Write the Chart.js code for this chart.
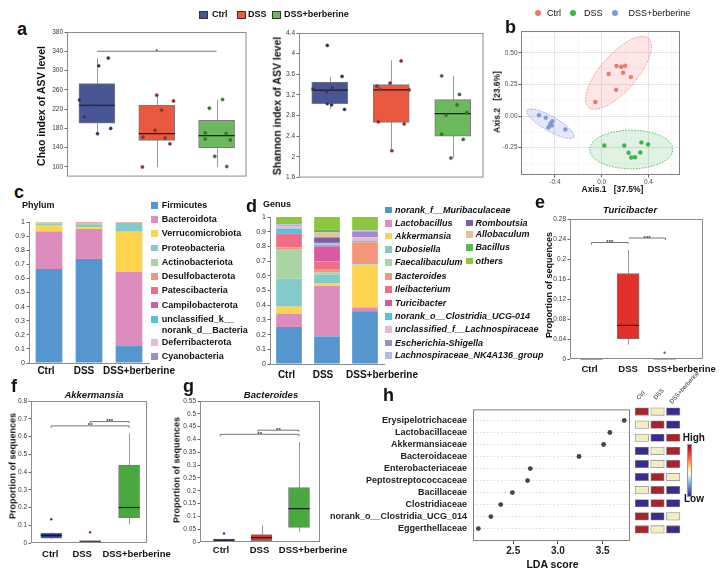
<!DOCTYPE html>
<html>
<head>
<meta charset="utf-8">
<title>Berberine and gut microbiota</title>
<script src="https://cdn.jsdelivr.net/npm/chart.js@4.4.1/dist/chart.umd.min.js"></script>
<style>
  html, body { margin: 0; padding: 0; background: #fff; }
  #page { position: relative; width: 720px; height: 580px; overflow: hidden;
          font-family: "Liberation Sans", Arial, Helvetica, sans-serif; color: #111; }
  #page canvas { position: absolute; }
  .t { position: absolute; white-space: pre; line-height: 1; }
  .sw { position: absolute; box-sizing: border-box; }
</style>
</head>
<body>
<div id="page"></div>
<script>
// ---------- data ----------
const groups = ['Ctrl', 'DSS', 'DSS+berberine'];

// a: Chao index
const chaoLow = [169, 100, 100];
const chaoQ1 = [191, 155, 140];
const chaoMed = [228, 169, 165];
const chaoQ3 = [273, 228, 197];
const chaoHigh = [326, 249, 240];
const chaoCtrl = [326, 310, 239, 228, 204, 180, 169];
const chaoDss = [249, 237, 218, 176, 162, 160, 148, 100];
const chaoBerb = [240, 222, 171, 169, 158, 156, 122, 101];
const chaoCtrlJit = [0.19, 0.03, -0.29, -0.07, -0.21, 0.23, 0.01];
const chaoDssJit = [0, 0.28, 0.08, -0.03, -0.23, 0.14, 0.22, -0.24];
const chaoBerbJit = [0.1, -0.12, -0.19, 0.16, -0.19, 0.23, -0.03, 0.17];
const chaoTicks = [100, 140, 180, 220, 260, 300, 340, 380];

// a: Shannon index
const shanLow = [2.93, 2.12, 1.98];
const shanQ1 = [3.03, 2.67, 2.40];
const shanMed = [3.295, 3.30, 2.84];
const shanQ3 = [3.45, 3.40, 3.11];
const shanHigh = [3.55, 3.87, 3.57];
const shanCtrl = [4.16, 3.56, 3.32, 3.34, 3.26, 3.03, 3.01, 2.92];
const shanDss = [3.86, 3.43, 3.37, 3.31, 3.30, 2.68, 2.64, 2.12];
const shanBerb = [3.57, 3.21, 3.01, 2.81, 2.86, 2.44, 2.34, 1.98];
const shanCtrlJit = [-0.04, 0.2, -0.27, 0.04, -0.05, -0.04, 0.03, 0.24];
const shanDssJit = [0.16, -0.02, -0.23, -0.19, 0.29, -0.21, 0.21, 0.01];
const shanBerbJit = [-0.18, 0.11, 0.07, -0.11, 0.23, -0.18, 0.17, -0.03];
const shanTicks = [1.6, 2, 2.4, 2.8, 3.2, 3.6, 4, 4.4];

// b: PCoA
const pcCtrlX = [0.127, 0.167, 0.20, 0.184, 0.06, 0.25, 0.124, -0.054];
const pcCtrlY = [0.396, 0.39, 0.398, 0.342, 0.332, 0.308, 0.207, 0.111];
const pcDssX = [0.023, 0.193, 0.34, 0.397, 0.23, 0.331, 0.253, 0.285];
const pcDssY = [-0.233, -0.233, -0.209, -0.225, -0.291, -0.289, -0.329, -0.326];
const pcBerbX = [-0.536, -0.478, -0.421, -0.435, -0.441, -0.455, -0.426, -0.311];
const pcBerbY = [0.006, -0.013, -0.042, -0.056, -0.068, -0.09, -0.076, -0.106];
// confidence ellipses: centre + two semi-axis vectors, in axis units
const ctrlEllipse = { cx: 0.144, cy: 0.342, ax: 0.256, ay: 0.273, bx: 0.118, by: -0.094 };
const dssEllipse = { cx: 0.253, cy: -0.265, ax: 0.356, ay: 0, bx: 0, by: 0.153 };
const berbEllipse = { cx: -0.438, cy: -0.061, ax: 0.199, ay: -0.106, bx: -0.032, by: -0.05 };
const pcXTicks = [-0.6, -0.4, -0.2, 0, 0.2, 0.4, 0.6];
const pcYTicks = [-0.375, -0.25, -0.125, 0, 0.125, 0.25, 0.375, 0.5, 0.625];

// c: phylum composition
const phyla = ['Firmicutes', 'Bacteroidota', 'Verrucomicrobiota', 'Proteobacteria', 'Actinobacteriota',
  'Desulfobacterota', 'Patescibacteria', 'Campilobacterota', 'unclassified_k__norank_d__Bacteria',
  'Deferribacterota', 'Cyanobacteria'];
const phylumCtrl = [0.667, 0.265, 0.047, 0.011, 0.007, 0.001, 0.002, 0, 0, 0, 0];
const phylumDss = [0.738, 0.212, 0.012, 0.017, 0.013, 0.004, 0.003, 0.001, 0, 0, 0];
const phylumBerb = [0.12, 0.526, 0.285, 0.062, 0.002, 0.001, 0.003, 0, 0, 0.001, 0];

// d: genus composition
const genera = ['norank_f__Muribaculaceae', 'Lactobacillus', 'Akkermansia', 'Dubosiella', 'Faecalibaculum',
  'Bacteroides', 'Ileibacterium', 'Turicibacter', 'norank_o__Clostridia_UCG-014',
  'unclassified_f__Lachnospiraceae', 'Escherichia-Shigella', 'Lachnospiraceae_NK4A136_group',
  'Romboutsia', 'Allobaculum', 'Bacillus', 'others'];
const genusCtrl = [0.252, 0.090, 0.048, 0.190, 0.202, 0.012, 0.090, 0.002, 0.035, 0.016, 0.006, 0.007, 0, 0, 0, 0.050];
const genusDss = [0.188, 0.345, 0.018, 0.057, 0.016, 0.022, 0.052, 0.102, 0.012, 0.004, 0.004, 0.004, 0.037, 0.034, 0.018, 0.087];
const genusBerb = [0.358, 0.027, 0.286, 0.005, 0.002, 0.150, 0.004, 0, 0.007, 0.023, 0.040, 0.007, 0, 0.001, 0, 0.090];
const tenths = [0, 0.1, 0.2, 0.3, 0.4, 0.5, 0.6, 0.7, 0.8, 0.9, 1];

// e: Turicibacter
const turiLow = [0, 0.0286, 0];
const turiQ1 = [0, 0.040, 0];
const turiMed = [0.0004, 0.0672, 0.0006];
const turiQ3 = [0.0008, 0.1706, 0.0012];
const turiHigh = [0, 0.2186, 0];
const turiOutlier = [0.0125];
const turiTicks = [0, 0.04, 0.08, 0.12, 0.16, 0.2, 0.24, 0.28];

// f: Akkermansia
const akkLow = [0.022, 0, 0.104];
const akkQ1 = [0.027, 0.001, 0.143];
const akkMed = [0.043, 0.005, 0.2];
const akkQ3 = [0.056, 0.013, 0.439];
const akkHigh = [0.06, 0.016, 0.618];
const akkOutCtrl = [0.134];
const akkOutDss = [0.06];
const akkTicks = [0, 0.1, 0.2, 0.3, 0.4, 0.5, 0.6, 0.7, 0.8];

// g: Bacteroides
const bacLow = [0, 0.001, 0.039];
const bacQ1 = [0.002, 0.005, 0.057];
const bacMed = [0.007, 0.017, 0.13];
const bacQ3 = [0.011, 0.029, 0.2125];
const bacHigh = [0.013, 0.065, 0.39];
const bacOutCtrl = [0.033];
const bacTicks = [0, 0.05, 0.1, 0.15, 0.2, 0.25, 0.3, 0.35, 0.4, 0.45, 0.5, 0.55];

// h: LEfSe
const ldaTaxa = ['Erysipelotrichaceae', 'Lactobacillaceae', 'Akkermansiaceae', 'Bacteroidaceae',
  'Enterobacteriaceae', 'Peptostreptococcaceae', 'Bacillaceae', 'Clostridiaceae',
  'norank_o__Clostridia_UCG_014', 'Eggerthellaceae'];
const ldaScore = [3.74, 3.58, 3.51, 3.235, 2.69, 2.66, 2.49, 2.36, 2.25, 2.11];
const ldaTicks = [2.5, 3.0, 3.5];
// relative abundance level per group: 1 high, 0 middle, -1 low
const heatCtrl = [1, 0, 0, -1, -1, -1, 0, -1, 1, 1];
const heatDss = [0, 1, -1, 0, 0, 1, 1, 1, -1, 0];
const heatBerb = [-1, -1, 1, 1, 1, 0, -1, -1, 0, -1];

// ---------- colours ----------
const fillA = ['#4a5595', '#e9583f', '#6cb95d'];
const dotA = ['#262f6c', '#a3241d', '#2c7a2a'];
const fillB = ['#2c3a8c', '#e2302b', '#49a93f'];
const pcColors = ['#f3766d', '#3db44a', '#8496db'];
const phylumColors = ['#5596cf', '#dd8dbd', '#fdd350', '#82cbc8', '#a8d5a2', '#f4967a', '#ef6e87',
  '#d9589f', '#4fc3e0', '#ebb6d8', '#a08cc8'];
const genusColors = ['#5596cf', '#dd8dbd', '#fdd350', '#82cbc8', '#a8d5a2', '#f4967a', '#ef6e87',
  '#d9589f', '#4fc3e0', '#ebb6d8', '#a08cc8', '#adbde6', '#7b5ea8', '#e3c49a', '#62b65a', '#8cc63e'];
const heatColor = { '1': '#a8232b', '0': '#f4edc4', '-1': '#3b2b8e' };

// ---------- helpers ----------
Chart.defaults.font.family = '"Liberation Sans", Arial, Helvetica, sans-serif';
Chart.defaults.color = '#333';
const FONT = '"Liberation Sans", Arial, Helvetica, sans-serif';
const page = document.getElementById('page');

// area = chart area on the page [left, top, right, bottom]; m = margins [left, top, right, bottom]
function canvasAt(area, m) {
  const c = document.createElement('canvas');
  const w = area[2] - area[0] + m[0] + m[2];
  const h = area[3] - area[1] + m[1] + m[3];
  c.width = w; c.height = h;
  c.style.width = w + 'px'; c.style.height = h + 'px';
  c.style.left = (area[0] - m[0]) + 'px';
  c.style.top = (area[1] - m[1]) + 'px';
  page.appendChild(c);
  return c;
}

function baseOptions(m) {
  return {
    responsive: false,
    animation: false,
    events: [],
    layout: { padding: { left: 0, top: m[1], right: m[2], bottom: 0 } },
    plugins: { legend: { display: false }, tooltip: { enabled: false } }
  };
}

function xHidden(height, extra) {
  return Object.assign({
    afterFit: s => { s.height = height; },
    ticks: { display: false },
    grid: { display: false },
    border: { display: false }
  }, extra || {});
}

function yLin(width, min, max, ticks, fmt, extra) {
  return Object.assign({
    type: 'linear', min, max,
    afterBuildTicks: s => { s.ticks = ticks.map(v => ({ value: v })); },
    afterFit: s => { s.width = width; },
    ticks: { autoSkip: false, padding: 1.5, color: '#3a3a3a', font: { size: 6.5 }, callback: fmt },
    grid: { drawOnChartArea: false, tickLength: 2.5, tickColor: '#6a6a6a' },
    border: { display: false }
  }, extra || {});
}

const trim = d => v => String(+v.toFixed(d));

// plot frame
function frame(color) {
  return {
    id: 'frame',
    afterDatasetsDraw(chart) {
      if (!color) return;
      const { ctx, chartArea: a } = chart;
      ctx.save();
      ctx.strokeStyle = color;
      ctx.lineWidth = 1;
      ctx.strokeRect(a.left + 0.5, a.top + 0.5, a.width - 1, a.height - 1);
      ctx.restore();
    }
  };
}

// whiskers under the boxes, medians on top of them
function whiskers(low, high, med, width, color) {
  return {
    id: 'whiskers',
    beforeDatasetsDraw(chart) {
      const { ctx, scales: { x, y } } = chart;
      ctx.save();
      ctx.strokeStyle = color || '#9a9a9a';
      ctx.lineWidth = 1;
      low.forEach((lo, i) => {
        if (lo === high[i]) return;
        const px = Math.round(x.getPixelForValue(i)) + 0.5;
        ctx.beginPath();
        ctx.moveTo(px, y.getPixelForValue(lo));
        ctx.lineTo(px, y.getPixelForValue(high[i]));
        ctx.stroke();
      });
      ctx.restore();
    },
    afterDatasetDraw(chart, args) {
      if (args.index !== 0) return;
      const { ctx, scales: { x, y } } = chart;
      ctx.save();
      ctx.strokeStyle = '#1a1a1a';
      ctx.lineWidth = 1.2;
      med.forEach((v, i) => {
        const px = x.getPixelForValue(i), py = y.getPixelForValue(v);
        ctx.beginPath();
        ctx.moveTo(px - width / 2, py);
        ctx.lineTo(px + width / 2, py);
        ctx.stroke();
      });
      ctx.restore();
    }
  };
}

// significance brackets
function brackets(items, color) {
  return {
    id: 'brackets',
    afterDatasetsDraw(chart) {
      const { ctx, scales: { x, y } } = chart;
      ctx.save();
      ctx.strokeStyle = color || '#555';
      ctx.fillStyle = '#333';
      ctx.lineWidth = 0.8;
      ctx.font = 'bold 6px ' + FONT;
      ctx.textAlign = 'center';
      items.forEach(b => {
        const x1 = x.getPixelForValue(b.x1), x2 = x.getPixelForValue(b.x2), py = y.getPixelForValue(b.y);
        ctx.beginPath();
        ctx.moveTo(x1, py + (b.d1 || 0));
        ctx.lineTo(x1, py);
        ctx.lineTo(x2, py);
        ctx.lineTo(x2, py + (b.d2 || 0));
        ctx.stroke();
        ctx.fillText(b.text, (x1 + x2) / 2, py + 1.5);
      });
      ctx.restore();
    }
  };
}

// category labels under the x axis, nudged like in the figure
function catLabels(labels, dx, base, font) {
  return {
    id: 'catLabels',
    afterDraw(chart) {
      const { ctx, chartArea, scales: { x } } = chart;
      ctx.save();
      ctx.font = font;
      ctx.fillStyle = '#111';
      ctx.textAlign = 'center';
      ctx.textBaseline = 'alphabetic';
      labels.forEach((t, i) => ctx.fillText(t, x.getPixelForValue(i) + dx[i], chartArea.bottom + base));
      ctx.restore();
    }
  };
}

function ellipses(list) {
  return {
    id: 'ellipses',
    beforeDatasetsDraw(chart) {
      const { ctx, scales: { x, y } } = chart;
      list.forEach(e => {
        ctx.save();
        ctx.beginPath();
        for (let k = 0; k <= 90; k++) {
          const t = k / 90 * Math.PI * 2;
          const px = x.getPixelForValue(e.cx + Math.cos(t) * e.ax + Math.sin(t) * e.bx);
          const py = y.getPixelForValue(e.cy + Math.cos(t) * e.ay + Math.sin(t) * e.by);
          if (k) ctx.lineTo(px, py); else ctx.moveTo(px, py);
        }
        ctx.closePath();
        ctx.fillStyle = e.fill;
        ctx.fill();
        ctx.setLineDash([1.6, 1.4]);
        ctx.strokeStyle = e.stroke;
        ctx.lineWidth = 1;
        ctx.stroke();
        ctx.restore();
      });
    }
  };
}

function boxPanel(area, m, c) {
  const datasets = [{
    type: 'bar',
    data: c.q1.map((q, i) => ({ x: i, y: [q, c.q3[i]] })),
    backgroundColor: c.fill,
    borderColor: c.edge || '#7a7a7a',
    borderWidth: 1,
    borderSkipped: false,
    barThickness: c.width,
    order: 2
  }];
  c.dots.forEach(d => datasets.push({
    type: 'scatter',
    data: d.vals.map((v, k) => ({ x: d.group + (d.jit ? d.jit[k] : 0), y: v })),
    backgroundColor: d.color,
    borderColor: d.edge || d.color,
    borderWidth: d.bw || 0,
    pointRadius: d.r || 1.6,
    order: 1
  }));
  const o = baseOptions(m);
  o.scales = {
    x: xHidden(m[3], { type: 'linear', min: c.xMin, max: c.xMax, offset: false }),
    y: yLin(m[0], c.yMin, c.yMax, c.yTicks, c.fmt)
  };
  const plugins = [whiskers(c.low, c.high, c.med, c.width), frame(c.frame)];
  if (c.sig) plugins.push(brackets(c.sig));
  if (c.labelDx) plugins.push(catLabels(groups, c.labelDx, c.labelBase - area[3], 'bold 9.5px ' + FONT));
  new Chart(canvasAt(area, m), { type: 'bar', data: { datasets }, options: o, plugins });
}

function stackPanel(area, m, names, colors, ctrl, dss, berb, pct, labelDx, labelBase) {
  const o = baseOptions(m);
  o.scales = {
    x: xHidden(m[3], { stacked: true, border: { display: true, color: '#8a8a8a' } }),
    y: yLin(m[0], 0, 1, tenths, trim(1), {
      stacked: true,
      ticks: { autoSkip: false, padding: 1.5, color: '#333', font: { size: 7 }, callback: trim(1) },
      border: { display: true, color: '#8a8a8a' }
    })
  };
  new Chart(canvasAt(area, m), {
    type: 'bar',
    data: {
      labels: groups,
      datasets: names.map((n, k) => ({
        label: n, data: [ctrl[k], dss[k], berb[k]], backgroundColor: colors[k],
        borderWidth: 0, barPercentage: pct, categoryPercentage: 1
      }))
    },
    options: o,
    plugins: [catLabels(groups, labelDx, labelBase - area[3], 'bold 10px ' + FONT)]
  });
}

// page text
function text(str, x, base, size, o = {}) {
  const d = document.createElement('div');
  d.className = 't';
  d.textContent = str;
  d.style.fontSize = size + 'px';
  d.style.fontWeight = o.weight || 'bold';
  if (o.italic) d.style.fontStyle = 'italic';
  d.style.color = o.color || '#111';
  d.style.top = (base - 0.85 * size) + 'px';
  d.style.left = x + 'px';
  if (o.center) d.style.transform = 'translateX(-50%)';
  page.appendChild(d);
  return d;
}
function vtext(str, cx, cy, size) {
  const d = document.createElement('div');
  d.className = 't';
  d.textContent = str;
  d.style.fontSize = size + 'px';
  d.style.fontWeight = 'bold';
  d.style.left = cx + 'px';
  d.style.top = cy + 'px';
  d.style.transform = 'translate(-50%,-50%) rotate(-90deg)';
  page.appendChild(d);
}
function swatch(x, y, w, h, color, edge, round) {
  const d = document.createElement('div');
  d.className = 'sw';
  Object.assign(d.style, { left: x + 'px', top: y + 'px', width: w + 'px', height: h + 'px', background: color });
  if (edge) d.style.border = '1px solid ' + edge;
  if (round) d.style.borderRadius = '50%';
  page.appendChild(d);
}

// ---------- a: Chao ----------
boxPanel([67, 32, 248, 179], [22, 6, 3, 3], {
  q1: chaoQ1, q3: chaoQ3, low: chaoLow, high: chaoHigh, med: chaoMed,
  fill: fillA, width: 36, xMin: -0.5, xMax: 2.5,
  yMin: 80, yMax: 380, yTicks: chaoTicks, fmt: trim(0), frame: '#8c8c8c',
  dots: [
    { group: 0, vals: chaoCtrl, jit: chaoCtrlJit, color: dotA[0], edge: '#555', bw: 0.5 },
    { group: 1, vals: chaoDss, jit: chaoDssJit, color: dotA[1], edge: '#555', bw: 0.5 },
    { group: 2, vals: chaoBerb, jit: chaoBerbJit, color: dotA[2], edge: '#555', bw: 0.5 }
  ],
  sig: [{ x1: 0, x2: 2, y: 340, text: '*' }]
});

// ---------- a: Shannon ----------
boxPanel([299, 33, 485, 180], [22, 6, 3, 3], {
  q1: shanQ1, q3: shanQ3, low: shanLow, high: shanHigh, med: shanMed,
  fill: fillA, width: 36, xMin: -0.5, xMax: 2.5,
  yMin: 1.6, yMax: 4.4, yTicks: shanTicks, fmt: trim(1), frame: '#8c8c8c',
  dots: [
    { group: 0, vals: shanCtrl, jit: shanCtrlJit, color: dotA[0], edge: '#555', bw: 0.5 },
    { group: 1, vals: shanDss, jit: shanDssJit, color: dotA[1], edge: '#555', bw: 0.5 },
    { group: 2, vals: shanBerb, jit: shanBerbJit, color: dotA[2], edge: '#555', bw: 0.5 }
  ]
});

// ---------- b: PCoA ----------
(function () {
  const m = [22, 6, 4, 12];
  const area = [521, 31, 680, 175];
  const majorX = v => Math.abs(Math.round(v * 10)) % 4 === 0;
  const majorY = v => Math.round(v * 8) % 2 === 0;
  const o = baseOptions(m);
  o.scales = {
    x: {
      type: 'linear', min: -0.69, max: 0.67,
      afterBuildTicks: s => { s.ticks = pcXTicks.map(v => ({ value: v })); },
      afterFit: s => { s.height = m[3]; },
      ticks: { autoSkip: false, maxRotation: 0, padding: 1, color: '#4d4d4d', font: { size: 6.5 },
        callback: v => majorX(v) ? v.toFixed(1) : '' },
      grid: { color: c => majorX(c.tick.value) ? '#e2e2e2' : '#efefef', lineWidth: c => majorX(c.tick.value) ? 0.9 : 0.5,
        tickLength: 2.5, tickColor: c => majorX(c.tick.value) ? '#555' : 'rgba(0,0,0,0)' },
      border: { display: false }
    },
    y: {
      type: 'linear', min: -0.467, max: 0.673,
      afterBuildTicks: s => { s.ticks = pcYTicks.map(v => ({ value: v })); },
      afterFit: s => { s.width = m[0]; },
      ticks: { autoSkip: false, padding: 1, color: '#4d4d4d', font: { size: 6.5 },
        callback: v => majorY(v) ? v.toFixed(2) : '' },
      grid: { color: c => majorY(c.tick.value) ? '#e2e2e2' : '#efefef', lineWidth: c => majorY(c.tick.value) ? 0.9 : 0.5,
        tickLength: 2.5, tickColor: c => majorY(c.tick.value) ? '#555' : 'rgba(0,0,0,0)' },
      border: { display: false }
    }
  };
  const pts = (xs, ys) => xs.map((v, i) => ({ x: v, y: ys[i] }));
  new Chart(canvasAt(area, m), {
    type: 'scatter',
    data: {
      datasets: [
        { label: 'Ctrl', data: pts(pcCtrlX, pcCtrlY), backgroundColor: pcColors[0], pointRadius: 2.2, borderWidth: 0 },
        { label: 'DSS', data: pts(pcDssX, pcDssY), backgroundColor: pcColors[1], pointRadius: 2.2, borderWidth: 0 },
        { label: 'DSS+berberine', data: pts(pcBerbX, pcBerbY), backgroundColor: pcColors[2], pointRadius: 2.2, borderWidth: 0 }
      ]
    },
    options: o,
    plugins: [
      ellipses([
        Object.assign({ fill: 'rgba(243,118,109,0.18)', stroke: 'rgba(243,118,109,0.8)' }, ctrlEllipse),
        Object.assign({ fill: 'rgba(61,180,74,0.16)', stroke: 'rgba(61,180,74,0.8)' }, dssEllipse),
        Object.assign({ fill: 'rgba(132,150,219,0.22)', stroke: 'rgba(132,150,219,0.85)' }, berbEllipse)
      ]),
      frame('#7f7f7f')
    ]
  });
})();

// ---------- c / d: stacked composition ----------
stackPanel([29, 222, 149, 363], [22, 6, 26, 17], phyla, phylumColors, phylumCtrl, phylumDss, phylumBerb,
  0.667, [-3, -5, 10], 374);
stackPanel([270, 217, 384, 364], [22, 6, 34, 17], genera, genusColors, genusCtrl, genusDss, genusBerb,
  0.676, [-2.5, -4, 17], 378);

// ---------- e: Turicibacter ----------
boxPanel([570, 219, 703, 359], [22, 6, 16, 16], {
  q1: turiQ1, q3: turiQ3, low: turiLow, high: turiHigh, med: turiMed,
  fill: fillB, edge: ['#26306e', '#777', '#2a6e25'], width: 22, xMin: -0.59, xMax: 3.05,
  yMin: 0, yMax: 0.28, yTicks: turiTicks, fmt: trim(2), frame: '#8c8c8c',
  dots: [{ group: 2, vals: turiOutlier, color: '#3c8f34', r: 1.2 }],
  sig: [{ x1: 0, x2: 1, y: 0.233, text: '***', d1: 2, d2: 1.5 },
        { x1: 1.02, x2: 2.02, y: 0.242, text: '***', d2: 2 }],
  labelDx: [-2, 0, 17], labelBase: 372
});

// ---------- f: Akkermansia ----------
boxPanel([31, 401, 147, 543], [22, 6, 24, 16], {
  q1: akkQ1, q3: akkQ3, low: akkLow, high: akkHigh, med: akkMed,
  fill: fillB, width: 21, xMin: -0.52, xMax: 2.46,
  yMin: 0, yMax: 0.8, yTicks: akkTicks, fmt: trim(1), frame: '#8c8c8c',
  dots: [{ group: 0, vals: akkOutCtrl, color: '#2c3a8c', r: 1.2 },
         { group: 1, vals: akkOutDss, color: '#c0282a', r: 1.3 }],
  sig: [{ x1: 0, x2: 2, y: 0.66, text: '**', d1: 2, d2: 2 },
        { x1: 1, x2: 2, y: 0.684, text: '***', d1: 1.5, d2: 1.5 }],
  labelDx: [-1, -8, 7.5], labelBase: 557
});

// ---------- g: Bacteroides ----------
boxPanel([200, 401, 320, 542], [24, 6, 28, 16], {
  q1: bacQ1, q3: bacQ3, low: bacLow, high: bacHigh, med: bacMed,
  fill: fillB, width: 21, xMin: -0.64, xMax: 2.56,
  yMin: 0, yMax: 0.55, yTicks: bacTicks, fmt: trim(2), frame: '#8c8c8c',
  dots: [{ group: 0, vals: bacOutCtrl, color: '#2c3a8c', r: 1.2 }],
  sig: [{ x1: -0.1, x2: 2, y: 0.42, text: '**', d1: 2, d2: 2 },
        { x1: 0.9, x2: 2, y: 0.436, text: '**', d1: 1.5, d2: 1.5 }],
  labelDx: [-3, -2, 14], labelBase: 553
});

// ---------- h: LDA scores ----------
(function () {
  const m = [150, 6, 4, 22];
  const o = baseOptions(m);
  o.scales = {
    x: {
      type: 'linear', min: 2.05, max: 3.805,
      afterBuildTicks: s => { s.ticks = ldaTicks.map(v => ({ value: v })); },
      afterFit: s => { s.height = m[3]; },
      ticks: { padding: 1, color: '#222', font: { size: 10, weight: 'bold' }, callback: v => v.toFixed(1) },
      grid: { drawOnChartArea: false, tickLength: 3, tickColor: '#555' },
      border: { display: false }
    },
    y: {
      type: 'linear', reverse: true, min: -0.92, max: 10.03,
      afterBuildTicks: s => { s.ticks = ldaTaxa.map((t, i) => ({ value: i })); },
      afterFit: s => { s.width = m[0]; },
      ticks: { autoSkip: false, padding: 6, color: '#222', font: { size: 9, weight: 'bold' }, callback: v => ldaTaxa[v] },
      grid: { color: '#d2d2d2', lineWidth: 0.8, drawTicks: false },
      border: { display: false, dash: [1.5, 2] }
    }
  };
  new Chart(canvasAt([473, 404, 630, 541], m), {
    type: 'scatter',
    data: { datasets: [{ label: 'LDA', data: ldaScore.map((v, i) => ({ x: v, y: i })),
      backgroundColor: '#454545', pointRadius: 2.4, borderWidth: 0 }] },
    options: o,
    plugins: [frame('#7f7f7f')]
  });

  // group heat map next to the LDA plot
  const hm = [2, 2, 2, 2];
  const ho = baseOptions(hm);
  ho.indexAxis = 'y';
  ho.scales = {
    x: xHidden(hm[3], { type: 'linear', min: 0, max: 3 }),
    y: { afterFit: s => { s.width = hm[0]; }, ticks: { display: false }, grid: { display: false }, border: { display: false } }
  };
  new Chart(canvasAt([634, 405, 681, 536], hm), {
    type: 'bar',
    data: {
      labels: ldaTaxa,
      datasets: [heatCtrl, heatDss, heatBerb].map((col, j) => ({
        label: groups[j],
        data: col.map(() => [j + 0.07, j + 0.93]),
        backgroundColor: col.map(l => heatColor[String(l)]),
        borderColor: '#8c8c8c', borderWidth: 0.8, borderSkipped: false,
        barThickness: 7.5, grouped: false
      }))
    },
    options: ho
  });
})();

// ---------- text, legends ----------
text('a', 17, 35, 18); text('b', 505, 33, 18); text('c', 14, 198, 18); text('d', 246, 212, 18);
text('e', 535, 208, 18); text('f', 11, 392, 18); text('g', 183, 392, 18); text('h', 383, 401, 18);

// a legend
[[199, 212], [237, 248], [271.5, 284]].forEach(([sx, tx], i) => {
  swatch(sx, 11, 9, 8, fillA[i], '#333');
  text(groups[i], tx, 18, 9);
});
vtext('Chao index of ASV level', 41, 106, 10.5);
vtext('Shannon index of ASV level', 277, 106, 10.5);

// b legend and axis titles
[[534.6, 547], [570, 584], [612, 628.5]].forEach(([dx, tx], i) => {
  swatch(dx, 10.4, 6, 6, pcColors[i], null, true);
  text(groups[i], tx, 16.5, 9, { weight: 'normal' });
});
vtext('Axis.2   [23.6%]', 497, 102, 8.5);
text('Axis.1   [37.5%]', 612.5, 192, 8.5, { center: true });

// c legend
text('Phylum', 22, 209, 9);
const phylumRows = [205.3, 219.3, 233.7, 248, 262.3, 276.7, 290.7, 305, 319.3, 342.7, 356.7];
phyla.forEach((n, k) => {
  swatch(151, phylumRows[k] - 3.4, 6.8, 6.8, phylumColors[k]);
  if (k === 8) {
    text('unclassified_k__', 161.7, phylumRows[k] + 3.2, 9);
    text('norank_d__Bacteria', 161.7, 333.3, 9);
  } else {
    text(n, 161.7, phylumRows[k] + 3.2, 9);
  }
});

// d legend
text('Genus', 263, 208, 9, { weight: '600' });
const genusRows = [210, 223.3, 236, 249.3, 262.7, 276.3, 289.7, 303, 316.3, 329.7, 343, 355.7, 223, 234.5, 247.5, 261];
genera.forEach((n, k) => {
  const col2 = k >= 12;
  swatch(col2 ? 466 : 385, genusRows[k] - 3.4, 6.8, 6.8, genusColors[k]);
  text(n, col2 ? 475.5 : 395, genusRows[k] + 3.2, 9, { italic: true });
});

// e, f, g titles
text('Turicibacter', 630, 213, 9.5, { italic: true, center: true });
vtext('Proportion of sequences', 549, 285, 9);
text('Akkermansia', 94, 398, 9.5, { italic: true, center: true });
vtext('Proportion of sequences', 12.5, 466, 9);
text('Bacteroides', 271, 398, 9.5, { italic: true, center: true });
vtext('Proportion of sequences', 177, 470, 9);

// h titles, heat-map column labels and colour key
text('LDA score', 552.5, 568, 10.5, { center: true });
[[639, 400], [655.5, 400.5], [671.5, 404.5]].forEach(([x, y], i) => {
  const d = text(groups[i], x, y, 6, { weight: 'normal', color: '#222' });
  d.style.transformOrigin = '0 85%';
  d.style.transform = 'rotate(-48deg)';
});
const key = document.createElement('div');
Object.assign(key.style, {
  position: 'absolute', left: '687px', top: '443.5px', width: '5px', height: '53px',
  border: '0.5px solid #999', boxSizing: 'border-box',
  background: 'linear-gradient(to bottom, #a50026, #e0312b 15%, #f88d52 32%, #fee99a 47%, #f4f9f6 58%, #9ccae0 70%, #5d7fc1 84%, #3a2b8e)'
});
page.appendChild(key);
text('High', 682.7, 441.5, 10);
text('Low', 684, 502.5, 10);
</script>
</body>
</html>
